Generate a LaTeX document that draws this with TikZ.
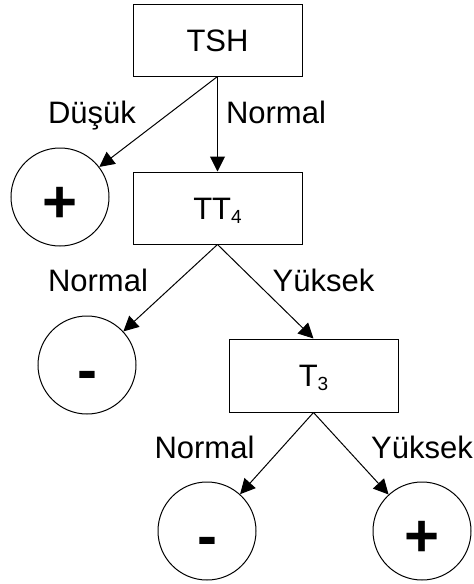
\documentclass[tikz,border=0pt]{standalone}
\usepackage{fontspec}
\setmainfont{Liberation Sans}
\usetikzlibrary{arrows.meta}
\tikzset{
  boxnode/.style={draw, line width=1pt, rectangle, minimum width=169pt, minimum height=72pt, inner sep=0pt,
    font=\fontsize{31}{31}\selectfont, text height=22.2pt, text depth=0pt},
  leafnode/.style={draw, line width=1pt, circle, minimum size=98pt, inner sep=0pt,
    font=\fontsize{60}{60}\selectfont\bfseries, text height=50pt, text depth=0pt},
  lbl/.style={anchor=base, inner sep=0pt, font=\fontsize{31}{31}\selectfont},
  arr/.style={line width=1pt, -{Triangle[length=15pt,width=15pt]}}
}
\newcommand{\subdig}[1]{\raisebox{-4pt}{\fontsize{19}{19}\selectfont #1}}
\begin{document}
\begin{tikzpicture}[x=1pt,y=-1pt]
\useasboundingbox (0,0) rectangle (474,584);
\node[boxnode] (tsh) at (217.5,40) {TSH};
\node[boxnode] (tt4) at (217.5,208) {TT\subdig{4}};
\node[boxnode, minimum height=73pt] (t3) at (313.5,375.5) {T\subdig{3}};
\node[leafnode] (c1) at (60,197) {+};
\node[leafnode] (c2) at (87,365) {-};
\node[leafnode] (c3) at (207,531) {-};
\node[leafnode] (c4) at (422,531) {+};
\draw[arr] (tsh.south) -- (c1);
\draw[arr] (tsh.south) -- (tt4.north);
\draw[arr] (tt4.south) -- (c2);
\draw[arr] (tt4.south) -- (t3.north);
\draw[arr] (t3.south) -- (c3);
\draw[arr] (t3.south) -- (c4);
\node[lbl] (l1) at (92,123) {Düşük};
\node[lbl] (l2) at (276,123) {Normal};
\node[lbl] (l3) at (98,291) {Normal};
\node[lbl] (l4) at (323.5,291) {Yüksek};
\node[lbl] (l5) at (204.5,458) {Normal};
\node[lbl] (l6) at (422,458) {Yüksek};
\end{tikzpicture}
\end{document}
